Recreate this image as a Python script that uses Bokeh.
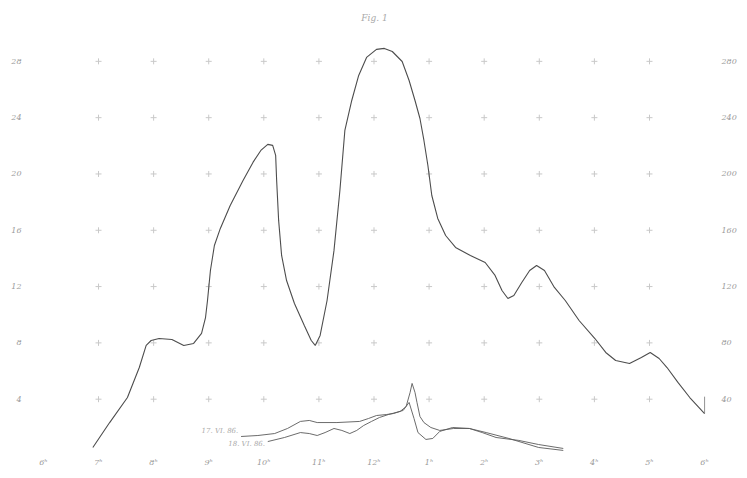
from bokeh.plotting import figure
from bokeh.models import Range1d, LinearAxis, FixedTicker, Title
from bokeh.core.properties import value
from bokeh.embed import file_html
from bokeh.resources import INLINE

# ---- data (hours of the day, 6h morning .. 6h evening; values in right-axis units) ----
main_h = [6.897, 7.202, 7.525, 7.740, 7.865, 7.955, 8.099, 8.332, 8.547, 8.726, 8.870, 8.942,
          8.978, 9.031, 9.103, 9.211, 9.390, 9.623, 9.803, 9.946, 10.072, 10.161, 10.215,
          10.233, 10.269, 10.323, 10.413, 10.556, 10.735, 10.861, 10.933, 11.022, 11.148,
          11.274, 11.381, 11.471, 11.596, 11.722, 11.865, 12.045, 12.188, 12.332, 12.511,
          12.637, 12.744, 12.834, 12.906, 12.978, 13.049, 13.157, 13.300, 13.480, 13.749,
          14.018, 14.197, 14.323, 14.430, 14.538, 14.682, 14.825, 14.951, 15.094, 15.274,
          15.471, 15.722, 16.009, 16.206, 16.386, 16.637, 16.852, 17.013, 17.175, 17.318,
          17.516, 17.731, 18.000]
main_v = [5.7, 23.4, 41.2, 62.5, 78.2, 81.7, 83.1, 82.4, 78.2, 79.6, 86.7, 98.0,
          110.1, 131.4, 149.2, 161.3, 177.6, 195.4, 208.2, 216.7, 221.0, 220.3, 213.2,
          195.4, 167.0, 142.1, 124.3, 108.0, 92.4, 81.7, 78.2, 85.3, 110.1,
          145.7, 188.3, 230.9, 252.2, 270.0, 282.8, 288.5, 289.2, 287.0, 279.9,
          266.4, 252.2, 239.4, 223.8, 206.0, 184.7, 168.4, 156.3, 147.8, 142.1,
          137.1, 127.9, 117.2, 111.5, 113.7, 122.9, 131.4, 135.0, 131.4, 119.4,
          110.1, 95.9, 83.1, 73.2, 67.5, 65.4, 69.6, 73.2, 68.9, 62.5,
          51.9, 41.2, 29.8]

a_h = [9.587, 9.892, 10.197, 10.430, 10.664, 10.825, 10.969, 11.327, 11.740, 11.901, 12.045,
       12.224, 12.350, 12.475, 12.583, 12.655, 12.691, 12.744, 12.780, 12.834, 12.906,
       13.031, 13.193, 13.444, 13.731, 13.964, 14.215, 14.628, 14.987, 15.435]
a_v = [13.5, 14.2, 15.6, 19.2, 24.2, 24.9, 23.4, 23.4, 24.2, 26.3, 28.4,
       29.1, 29.8, 31.3, 34.8, 44.8, 51.2, 44.8, 37.7, 27.7, 23.4,
       19.9, 17.8, 19.2, 19.2, 16.3, 12.8, 10.7, 7.8, 5.0]

b_h = [10.072, 10.377, 10.664, 10.825, 10.969, 11.112, 11.274, 11.417, 11.561, 11.686, 11.812,
       11.955, 12.099, 12.260, 12.404, 12.529, 12.637, 12.726, 12.798, 12.942, 13.067,
       13.193, 13.426, 13.731, 14.036, 14.448, 14.987, 15.435]
b_v = [9.9, 12.8, 16.3, 15.6, 14.2, 16.3, 19.2, 17.8, 15.6, 17.8, 21.3,
       24.2, 27.0, 29.1, 30.6, 32.0, 37.7, 26.3, 16.3, 11.4, 12.1,
       17.1, 19.9, 19.2, 16.3, 12.1, 5.7, 3.6]

hour_ticks = [6, 7, 8, 9, 10, 11, 12, 13, 14, 15, 16, 17, 18]
hour_labels = ["6ʰ", "7ʰ", "8ʰ", "9ʰ", "10ʰ", "11ʰ", "12ʰ", "1ʰ", "2ʰ", "3ʰ", "4ʰ", "5ʰ", "6ʰ"]
value_ticks = [40, 80, 120, 160, 200, 240, 280]
left_labels = ["4", "8", "12", "16", "20", "24", "28"]
right_labels = ["40", "80", "120", "160", "200", "240", "280"]
grid_hours = [7, 8, 9, 10, 11, 12, 13, 14, 15, 16, 17]

label_a = "17. VI. 86."
label_b = "18. VI. 86."
title_text = "Fig. 1"

FONT = "DejaVu Serif"
TXT = "#9a9a9a"

p = figure(width=739, height=470, output_backend="svg", toolbar_location=None,
           x_range=Range1d(5.8744, 18.1435), y_range=Range1d(2.84, 307.6),
           min_border_left=36, min_border_right=19, min_border_top=22, min_border_bottom=19,
           background_fill_color="white", border_fill_color="white", outline_line_color=None)
p.title = Title(text=title_text, align="center", text_font_size="9px", text_color="#aaaaaa",
                text_font_style="italic", text_font=FONT, standoff=0, offset=0)
p.xgrid.visible = False
p.ygrid.visible = False

# axes
xa = p.xaxis[0]
xa.ticker = FixedTicker(ticks=hour_ticks)
xa.major_label_overrides = {t: l for t, l in zip(hour_ticks, hour_labels)}
ya = p.yaxis[0]
ya.ticker = FixedTicker(ticks=value_ticks)
ya.major_label_overrides = {t: l for t, l in zip(value_ticks, left_labels)}
ra = LinearAxis(ticker=FixedTicker(ticks=value_ticks))
ra.major_label_overrides = {t: l for t, l in zip(value_ticks, right_labels)}
p.add_layout(ra, "right")
for ax in (xa, ya, ra):
    ax.axis_line_color = None
    ax.major_tick_line_color = None
    ax.minor_tick_line_color = None
    ax.major_label_text_color = TXT
    ax.major_label_text_font = FONT
    ax.major_label_text_font_style = "italic"
    ax.major_label_text_font_size = "8px"
xa.major_label_standoff = 0
ya.major_label_standoff = 9
ra.major_label_standoff = 3

# grid crosses at intersections
gx = [h for v in value_ticks for h in grid_hours]
gy = [v for v in value_ticks for h in grid_hours]
p.scatter(gx, gy, marker="cross", size=6, line_color="#c9c9c9", line_width=1)

# curves
p.line(main_h, main_v, line_color="#4d4d4d", line_width=1.1)
p.line(a_h, a_v, line_color="#5a5a5a", line_width=0.9)
p.line(b_h, b_v, line_color="#5a5a5a", line_width=0.9)

# curve labels
p.text(x=[a_h[0] - 0.05, b_h[0] - 0.05], y=[a_v[0] + 4, b_v[0] - 2], text=[label_a, label_b],
       text_align="right", text_baseline="middle", text_font_size="7px",
       text_font=value(FONT), text_font_style="italic", text_color="#aaaaaa")

# end mark at right edge of the main curve
p.segment(x0=[main_h[-1]], y0=[main_v[-1]], x1=[main_h[-1]], y1=[main_v[-1] + 12],
          line_color="#777777", line_width=0.8)

open("out.html", "w").write(file_html(p, INLINE))
